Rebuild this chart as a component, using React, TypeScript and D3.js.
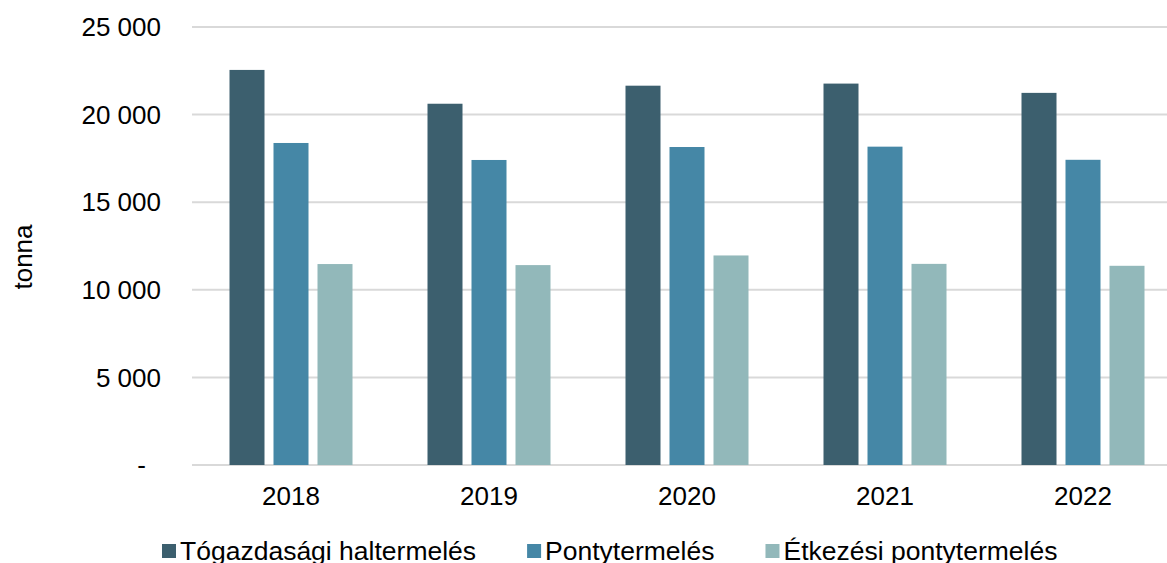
import React, { useEffect, useRef } from "react";
import * as d3 from "d3";

const years = ["2018", "2019", "2020", "2021", "2022"];
const seriesNames = ["Tógazdasági haltermelés", "Pontytermelés", "Étkezési pontytermelés"];
const togazdasagi = [22550, 20620, 21650, 21770, 21240];
const ponty = [18380, 17410, 18150, 18170, 17420];
const etkezesi = [11470, 11410, 11960, 11480, 11370];
const yTicks = [0, 5000, 10000, 15000, 20000, 25000];
const colors = ["#3c5f6e", "#4587a6", "#92b8ba"];

const W = 1167;
const H = 563;
const FONT = "'Liberation Sans', Arial, sans-serif";

export default function App() {
  const svgRef = useRef<SVGSVGElement>(null);

  useEffect(() => {
    const svg = d3.select(svgRef.current);
    svg.selectAll("*").remove();

    const margin = { top: 27, left: 192, bottom: 465, right: 1182 };
    const allSeries = [togazdasagi, ponty, etkezesi];
    const data = years.map((y, i) => ({
      year: y,
      values: allSeries.map((s, k) => ({ key: seriesNames[k], value: s[i], idx: k })),
    }));

    const x = d3.scaleBand().domain(years).range([margin.left, margin.right]);
    const inner = d3
      .scaleBand()
      .domain(seriesNames)
      .range([37.5, 160.5])
      .paddingInner(9 / 44);
    const y = d3.scaleLinear().domain([0, 25000]).range([margin.bottom, margin.top]);

    const fmt = d3.formatLocale({ decimal: ",", thousands: "\u00a0", grouping: [3], currency: ["", ""] }).format(",d");

    // grid
    svg
      .append("g")
      .selectAll("line")
      .data(yTicks)
      .enter()
      .append("line")
      .attr("x1", margin.left)
      .attr("x2", W)
      .attr("y1", (d) => y(d))
      .attr("y2", (d) => y(d))
      .attr("stroke", "#d9d9d9")
      .attr("stroke-width", 2);

    // y labels
    svg
      .append("g")
      .selectAll("text")
      .data(yTicks)
      .enter()
      .append("text")
      .attr("x", (d) => (d === 0 ? 146 : 161))
      .attr("y", (d) => y(d))
      .attr("dy", "0.35em")
      .attr("text-anchor", "end")
      .style("font-family", FONT)
      .style("font-size", "26px")
      .attr("fill", "#000")
      .text((d) => (d === 0 ? "-" : fmt(d)));

    // bars
    const groups = svg
      .append("g")
      .selectAll("g")
      .data(data)
      .enter()
      .append("g")
      .attr("transform", (d) => `translate(${x(d.year)},0)`);

    groups
      .selectAll("rect")
      .data((d) => d.values)
      .enter()
      .append("rect")
      .attr("x", (d) => inner(d.key)!)
      .attr("width", inner.bandwidth())
      .attr("y", (d) => y(d.value))
      .attr("height", (d) => y(0) - y(d.value))
      .attr("fill", (d) => colors[d.idx]);

    // x labels
    svg
      .append("g")
      .selectAll("text")
      .data(years)
      .enter()
      .append("text")
      .attr("x", (d) => x(d)! + x.bandwidth() / 2)
      .attr("y", 505)
      .attr("text-anchor", "middle")
      .style("font-family", FONT)
      .style("font-size", "26px")
      .attr("fill", "#000")
      .text((d) => d);

    // y title
    svg
      .append("text")
      .attr("transform", `translate(32,257) rotate(-90)`)
      .attr("text-anchor", "middle")
      .style("font-family", FONT)
      .style("font-size", "26px")
      .attr("fill", "#000")
      .text("tonna");

    // legend (bottom is clipped in the original too)
    const legend = svg.append("g");
    let lx = 162;
    seriesNames.forEach((name, i) => {
      legend
        .append("rect")
        .attr("x", lx)
        .attr("y", 544)
        .attr("width", 14)
        .attr("height", 14)
        .attr("fill", colors[i]);
      const t = legend
        .append("text")
        .attr("x", lx + 18)
        .attr("y", 560)
        .style("font-family", FONT)
        .style("font-size", "26.5px")
        .attr("fill", "#000")
        .text(name);
      const len = (t.node() as SVGTextElement).getComputedTextLength();
      lx = lx + 18 + len + 51;
    });
  }, []);

  return (
    <svg
      ref={svgRef}
      width={W}
      height={H}
      style={{ position: "absolute", left: 0, top: 0, background: "#fff" }}
    />
  );
}
